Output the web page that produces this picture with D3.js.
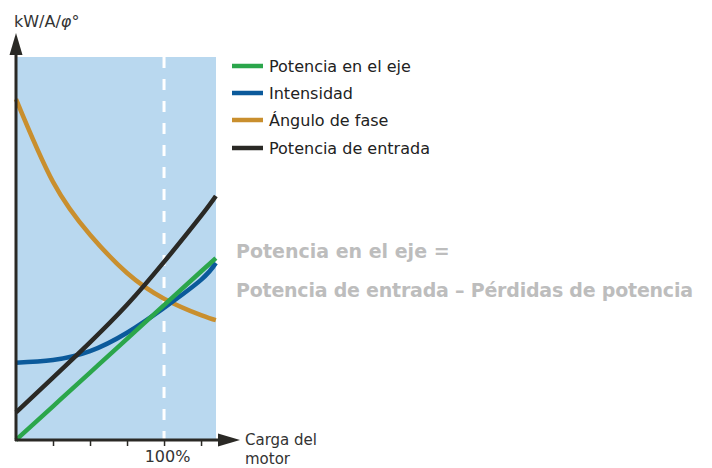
<!DOCTYPE html>
<html>
<head>
<meta charset="utf-8">
<script src="https://cdn.jsdelivr.net/npm/d3@7"></script>
<style>
  body { margin: 0; background: #fff; }
  text { font-family: "DejaVu Sans", sans-serif; }
</style>
</head>
<body>
<svg id="chart"></svg>
<script>
// load in % of rated motor load
const loadPct = [0, 25, 50, 75, 100, 125, 135];
const shaftPower = [0, 8.8, 17.6, 26.4, 35.2, 44.0, 47.5];
const current = [20.2, 20.9, 23.2, 28.0, 34.5, 41.8, 46.2];
const phaseAngle = [89, 67.4, 53.6, 43.6, 36.9, 32.6, 31.3];
const inputPower = [7.2, 16.3, 25.5, 35.3, 46.5, 58.5, 63.7];

const tickValues = [25, 50, 75, 100, 125];
const seriesNames = ['Potencia en el eje', 'Intensidad', 'Ángulo de fase', 'Potencia de entrada'];
const seriesColors = ['#2ba64b', '#0b5a9b', '#c98f2e', '#2a2925'];

const width = 712;
const height = 468;

const svg = d3.select('#chart')
    .attr('width', width)
    .attr('height', height);

const x = d3.scaleLinear().domain([0, 135.1]).range([16, 216]);
const y = d3.scaleLinear().domain([0, 100]).range([440, 57]);

// shaded operating region
svg.append('rect')
    .attr('x', x(0))
    .attr('y', y(100))
    .attr('width', x(135.1) - x(0))
    .attr('height', y(0) - y(100))
    .attr('fill', '#b9d8ef');

// rated load marker
svg.append('line')
    .attr('x1', x(100)).attr('x2', x(100))
    .attr('y1', y(100)).attr('y2', y(0))
    .attr('stroke', '#fff')
    .attr('stroke-width', 3)
    .attr('stroke-dasharray', '11,11');

const line = d3.line()
    .x((d, i) => x(loadPct[i]))
    .y(d => y(d))
    .curve(d3.curveNatural);

const series = [shaftPower, current, phaseAngle, inputPower];
// draw order: phase, current, input, shaft on top
[2, 1, 3, 0].forEach(k => {
    svg.append('path')
        .datum(series[k])
        .attr('d', line)
        .attr('fill', 'none')
        .attr('stroke', seriesColors[k])
        .attr('stroke-width', 4.5);
});

// x axis ticks
const xAxis = d3.axisBottom(x)
    .tickValues(tickValues)
    .tickSize(6)
    .tickPadding(5)
    .tickFormat(d => (d === 100 ? '100%' : ''));
const gx = svg.append('g')
    .attr('transform', `translate(0,${y(0)})`)
    .call(xAxis);
gx.select('.domain').remove();
gx.selectAll('.tick line').attr('stroke', '#2a2925').attr('stroke-width', 1.5);
gx.selectAll('.tick text')
    .attr('font-family', 'DejaVu Sans, sans-serif')
    .attr('font-size', 16)
    .attr('fill', '#333')
    .attr('dx', 3);

// axis lines with arrow heads
const axisColor = '#2a2925';
svg.append('line')
    .attr('x1', x(0)).attr('x2', x(0))
    .attr('y1', y(0) + 1).attr('y2', 52)
    .attr('stroke', axisColor).attr('stroke-width', 3);
svg.append('path')
    .attr('d', `M${x(0) - 6.5},55 L${x(0)},33 L${x(0) + 6.5},55 Z`)
    .attr('fill', axisColor);
svg.append('line')
    .attr('x1', x(0) - 1).attr('x2', 220)
    .attr('y1', y(0)).attr('y2', y(0))
    .attr('stroke', axisColor).attr('stroke-width', 3);
svg.append('path')
    .attr('d', `M218,${y(0) - 6.5} L240,${y(0)} L218,${y(0) + 6.5} Z`)
    .attr('fill', axisColor);

// axis titles
const yTitle = svg.append('text')
    .attr('x', 14)
    .attr('y', 27)
    .attr('font-size', 16)
    .attr('fill', '#333');
yTitle.append('tspan').text('kW/A/');
yTitle.append('tspan').attr('font-style', 'italic').text('φ');
yTitle.append('tspan').text('°');

svg.append('text')
    .attr('x', 245).attr('y', 445)
    .attr('font-size', 15).attr('fill', '#333')
    .text('Carga del');
svg.append('text')
    .attr('x', 245).attr('y', 464)
    .attr('font-size', 15).attr('fill', '#333')
    .text('motor');

// legend
const legendY = [66, 93, 120, 148];
const legend = svg.append('g');
seriesNames.forEach((name, i) => {
    legend.append('line')
        .attr('x1', 232).attr('x2', 263)
        .attr('y1', legendY[i]).attr('y2', legendY[i])
        .attr('stroke', seriesColors[i])
        .attr('stroke-width', 4.5);
    legend.append('text')
        .attr('x', 269)
        .attr('y', legendY[i] + 5.5)
        .attr('font-size', 16)
        .attr('fill', '#222')
        .text(name);
});

// formula note
svg.append('text')
    .attr('x', 236).attr('y', 258)
    .attr('font-size', 19).attr('font-weight', 'bold')
    .attr('font-family', 'Liberation Sans, Arial, sans-serif')
    .attr('fill', '#bdbdbd')
    .text('Potencia en el eje =');
svg.append('text')
    .attr('x', 236).attr('y', 297)
    .attr('font-size', 19).attr('font-weight', 'bold')
    .attr('font-family', 'Liberation Sans, Arial, sans-serif')
    .attr('fill', '#bdbdbd')
    .attr('textLength', 457)
    .text('Potencia de entrada – Pérdidas de potencia');
</script>
</body>
</html>
